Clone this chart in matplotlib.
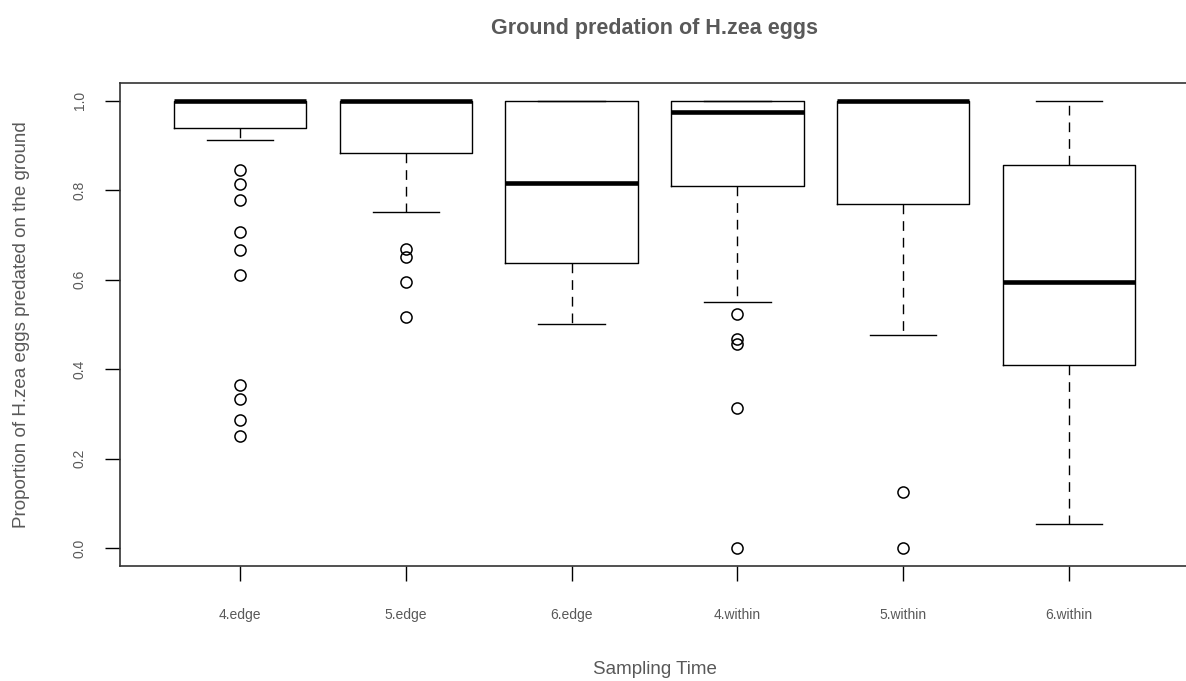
import matplotlib
matplotlib.use("Agg")
import matplotlib.pyplot as plt

# boxplot of ground predation, stats
labels = ["4.edge", "5.edge", "6.edge", "4.within", "5.within", "6.within"]
q1 = [0.938, 0.882, 0.637, 0.810, 0.768, 0.409]
med = [1.000, 1.000, 0.815, 0.975, 1.000, 0.594]
q3 = [1.000, 1.000, 1.000, 1.000, 1.000, 0.857]
whislo = [0.913, 0.750, 0.500, 0.550, 0.476, 0.053]
whishi = [1.000, 1.000, 1.000, 1.000, 1.000, 1.000]
fliers = [
    [0.845, 0.814, 0.778, 0.706, 0.667, 0.611, 0.365, 0.334, 0.286, 0.251],
    [0.668, 0.650, 0.594, 0.517],
    [],
    [0.522, 0.467, 0.456, 0.312, 0.0],
    [0.125, 0.0],
    [],
]
yticks = [0.0, 0.2, 0.4, 0.6, 0.8, 1.0]

plt.rcParams["font.family"] = ["Liberation Sans", "DejaVu Sans"]
txt = "#595959"

stats = []
for i in range(len(labels)):
    stats.append(dict(label=labels[i], q1=q1[i], med=med[i], q3=q3[i],
                      whislo=whislo[i], whishi=whishi[i], fliers=fliers[i]))

fig = plt.figure(figsize=(11.86, 6.81), dpi=100)
ax = fig.add_axes([0.1012, 0.1689, 0.9013, 0.7097])

ax.bxp(stats, positions=range(1, 7), widths=0.8, capwidths=0.4,
       boxprops=dict(color="black", linewidth=1.0),
       medianprops=dict(color="black", linewidth=3.3, solid_capstyle="butt"),
       whiskerprops=dict(color="black", linewidth=1.0, linestyle=(0, (7, 5))),
       capprops=dict(color="black", linewidth=1.0),
       flierprops=dict(marker="o", markersize=8, markerfacecolor="none",
                       markeredgecolor="black", markeredgewidth=1.1))

ax.set_xlim(0.276, 6.724)
ax.set_ylim(-0.04, 1.04)
ax.set_yticks(yticks)
ax.set_yticklabels([f"{v:.1f}" for v in yticks], rotation=90, va="center")

for s in ax.spines.values():
    s.set_color("#333333")
    s.set_linewidth(1.2)

ax.tick_params(axis="both", length=10.8, width=1.0, color="black",
               labelsize=10, labelcolor=txt)
ax.tick_params(axis="y", pad=13)
ax.tick_params(axis="x", pad=19.5)

ax.set_title("Ground predation of H.zea eggs", fontsize=15.5, fontweight="bold",
             color=txt, y=1.113, pad=0, va="center")
ax.set_xlabel("Sampling Time", fontsize=13.5, color=txt)
ax.set_ylabel("Proportion of H.zea eggs predated on the ground", fontsize=13.5, color=txt)
ax.xaxis.set_label_coords(0.5, -0.215)
ax.xaxis.label.set_verticalalignment("center")
ax.yaxis.set_label_coords(-0.0926, 0.5)
ax.yaxis.label.set_verticalalignment("center")

fig.savefig("out.png", dpi=100)
